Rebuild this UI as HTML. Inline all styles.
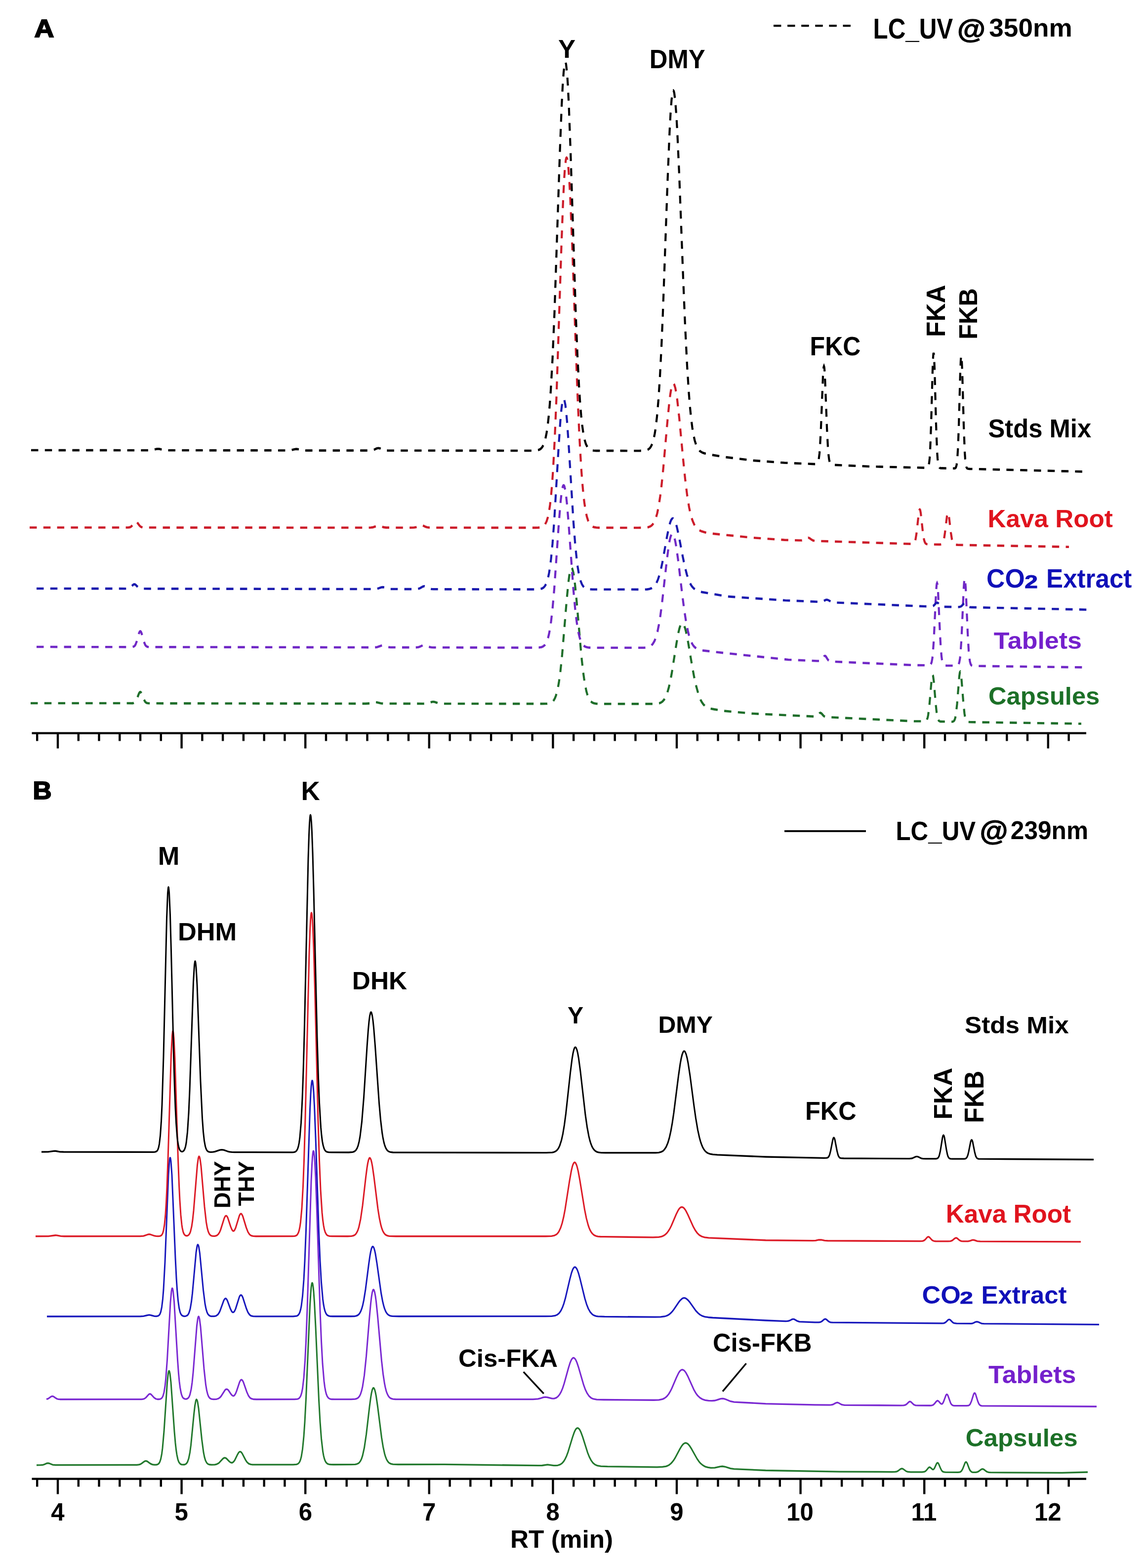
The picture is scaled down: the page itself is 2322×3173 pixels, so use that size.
<!DOCTYPE html>
<html><head><meta charset="utf-8"><title>LC-UV chromatograms</title><style>html,body{margin:0;padding:0;background:#fff;}svg{display:block;}</style></head><body>
<svg width="2322" height="3173" viewBox="0 0 2322 3173">
<rect width="100%" height="100%" fill="#fff"/>
<g fill="none" stroke-width="4.2" stroke-dasharray="14.5 13.3" transform="scale(1,1.1)">
<path d="M62.0,1293.6 268.5,1293.7 270.5,1293.3 272.0,1292.7 274.5,1290.4 277.0,1286.0 281.5,1275.4 283.0,1273.4 284.0,1273.0 285.0,1273.4 286.5,1275.4 291.5,1287.1 294.0,1291.1 295.5,1292.4 297.0,1293.2 299.0,1293.7 302.0,1293.9 740.0,1294.4 748.5,1293.9 757.0,1292.0 760.0,1291.7 763.0,1292.0 771.0,1293.9 776.5,1294.3 856.5,1294.5 862.0,1294.3 865.5,1293.9 874.0,1291.3 877.0,1290.9 880.0,1291.3 888.5,1294.0 896.0,1294.5 1098.0,1294.7 1107.0,1294.6 1112.5,1293.8 1116.0,1292.6 1119.0,1290.6 1121.5,1287.7 1123.5,1284.3 1125.5,1279.6 1127.5,1273.4 1129.5,1265.3 1131.5,1255.0 1134.5,1235.0 1138.0,1204.6 1147.0,1106.2 1150.5,1072.7 1152.5,1058.5 1154.0,1050.8 1155.5,1046.1 1156.5,1044.7 1157.0,1044.5 1157.5,1044.7 1158.5,1046.0 1160.5,1052.5 1162.0,1060.5 1164.0,1074.8 1167.0,1102.3 1177.0,1207.3 1180.5,1236.1 1183.5,1255.3 1187.0,1271.3 1189.0,1277.8 1191.0,1282.8 1193.5,1287.3 1196.0,1290.3 1199.0,1292.4 1202.0,1293.6 1207.0,1294.5 1215.5,1294.9 1324.5,1294.9 1330.0,1294.6 1334.5,1293.8 1338.0,1292.5 1341.0,1290.6 1344.5,1287.0 1348.0,1281.3 1351.0,1274.1 1354.0,1264.6 1357.0,1252.6 1360.0,1238.0 1369.5,1183.4 1373.5,1163.4 1375.5,1155.8 1377.5,1150.2 1379.5,1147.1 1381.0,1146.4 1382.0,1146.7 1383.0,1147.5 1385.0,1150.8 1387.0,1156.0 1389.0,1163.1 1393.0,1181.3 1401.0,1224.5 1405.0,1244.4 1409.0,1260.9 1414.0,1277.4 1416.0,1282.5 1418.5,1287.8 1421.0,1291.9 1424.0,1295.8 1427.0,1298.7 1430.0,1300.9 1433.5,1302.3 1437.5,1303.4 1446.0,1304.9 1465.0,1307.7 1523.0,1312.7 1649.0,1318.1 1651.5,1317.9 1653.5,1317.1 1655.5,1315.6 1659.0,1312.2 1660.0,1311.6 1661.0,1311.4 1663.0,1312.4 1666.5,1316.1 1668.5,1317.8 1671.0,1318.8 1674.0,1319.2 1850.0,1326.8 1872.5,1326.9 1874.0,1326.5 1875.0,1325.8 1876.5,1323.9 1878.0,1320.0 1879.0,1315.6 1881.5,1297.1 1886.0,1249.8 1887.0,1243.9 1887.5,1242.3 1888.0,1241.8 1888.5,1242.4 1889.0,1243.9 1890.5,1254.1 1894.0,1292.3 1896.0,1309.8 1897.5,1318.2 1899.0,1323.2 1900.0,1325.0 1901.0,1326.2 1902.5,1327.0 1904.0,1327.4 1928.0,1327.7 1930.5,1326.9 1932.0,1325.3 1933.5,1321.8 1935.0,1315.4 1937.5,1295.4 1942.0,1244.1 1943.0,1237.7 1943.5,1236.0 1944.0,1235.5 1944.5,1236.0 1945.0,1237.7 1946.0,1244.2 1950.5,1295.5 1952.5,1312.6 1953.5,1318.2 1955.0,1323.6 1956.5,1326.3 1958.5,1327.8 1960.5,1328.2 1965.0,1328.4 2189.0,1331.4" stroke="#1e6e2a"/>
<path d="M74.0,1190.0 261.5,1190.3 268.5,1190.0 270.5,1189.5 272.0,1188.7 273.5,1187.1 274.5,1185.5 277.0,1179.4 281.5,1164.6 283.0,1161.8 284.0,1161.2 285.0,1161.8 286.5,1164.6 291.5,1180.9 294.0,1186.4 295.5,1188.3 297.0,1189.3 299.0,1190.0 302.0,1190.3 755.0,1191.0 760.0,1190.8 763.5,1190.4 772.0,1187.8 775.0,1187.4 778.0,1187.8 785.5,1190.3 790.5,1190.9 838.5,1191.1 844.0,1190.9 847.5,1190.4 850.5,1189.5 856.0,1187.1 859.0,1186.6 862.0,1187.1 867.5,1189.5 870.5,1190.4 873.5,1190.9 878.0,1191.1 1082.0,1191.5 1091.0,1191.2 1096.5,1190.4 1100.0,1188.9 1103.0,1186.5 1105.5,1183.0 1107.5,1179.0 1109.5,1173.4 1111.5,1166.0 1113.5,1156.3 1115.5,1144.0 1118.5,1120.1 1122.0,1083.8 1131.0,966.3 1134.5,926.4 1136.5,909.3 1138.0,900.2 1139.5,894.6 1140.5,892.9 1141.0,892.7 1141.5,892.9 1142.5,894.5 1144.5,902.2 1146.0,911.7 1148.0,928.8 1151.0,961.7 1161.0,1087.0 1164.5,1121.5 1167.5,1144.3 1169.5,1156.2 1171.5,1165.6 1173.5,1172.9 1175.5,1178.5 1178.0,1183.4 1180.5,1186.6 1183.5,1189.0 1186.5,1190.3 1191.5,1191.3 1200.0,1191.6 1303.5,1191.6 1310.0,1191.0 1314.5,1189.8 1318.0,1187.9 1321.5,1184.6 1325.0,1179.2 1328.0,1172.1 1331.0,1162.1 1334.0,1148.7 1337.0,1131.7 1340.0,1111.1 1349.5,1034.0 1353.5,1005.8 1355.5,995.0 1357.5,987.2 1359.5,982.8 1360.5,981.9 1361.0,981.8 1362.0,982.2 1363.0,983.4 1365.0,988.1 1367.0,995.6 1369.0,1005.6 1373.0,1031.5 1381.0,1092.8 1385.0,1121.0 1389.0,1144.5 1392.5,1160.5 1394.5,1167.9 1397.0,1175.3 1399.5,1181.1 1402.0,1185.5 1404.5,1188.7 1407.5,1191.4 1411.5,1193.7 1415.0,1195.0 1423.5,1196.7 1441.0,1198.6 1472.0,1201.8 1596.0,1213.6 1654.0,1215.9 1659.0,1215.9 1661.0,1215.4 1663.0,1214.1 1668.0,1207.6 1669.0,1206.8 1670.0,1206.5 1671.0,1206.9 1672.0,1207.8 1675.5,1212.9 1677.5,1215.1 1680.0,1216.5 1683.0,1217.0 1850.0,1223.6 1878.0,1224.0 1882.0,1223.7 1883.5,1222.9 1884.5,1221.8 1886.0,1218.3 1887.5,1210.9 1888.5,1202.6 1890.5,1175.8 1895.0,1088.2 1896.0,1076.8 1896.5,1073.7 1897.0,1072.7 1897.5,1073.8 1898.0,1076.8 1899.0,1088.3 1903.0,1167.0 1904.5,1191.2 1906.0,1207.4 1907.0,1214.2 1908.0,1218.6 1909.0,1221.3 1910.0,1222.8 1911.0,1223.6 1912.5,1224.2 1916.0,1224.4 1933.5,1224.6 1938.0,1224.3 1939.5,1223.5 1940.5,1222.4 1942.0,1218.6 1943.5,1210.8 1944.5,1202.0 1946.5,1173.6 1951.0,1081.0 1952.0,1068.8 1952.5,1065.6 1953.0,1064.5 1953.5,1065.6 1954.0,1068.8 1955.0,1081.0 1959.0,1164.4 1961.0,1196.6 1962.0,1207.0 1963.5,1216.9 1965.0,1221.7 1966.0,1223.4 1967.0,1224.2 1969.0,1224.9 1973.0,1225.1 2202.0,1227.8" stroke="#7028c6"/>
<path d="M74.0,1082.7 256.5,1082.9 260.0,1082.5 262.5,1081.7 265.0,1079.9 269.5,1075.8 271.0,1075.0 272.0,1074.8 273.0,1075.0 274.5,1075.8 279.5,1080.4 282.0,1081.9 285.0,1082.8 290.0,1083.0 755.0,1083.7 760.0,1083.6 763.5,1083.2 772.0,1080.5 775.0,1080.1 778.0,1080.5 785.5,1083.0 790.5,1083.6 838.5,1083.8 844.0,1083.6 847.5,1083.0 850.5,1081.9 856.0,1079.1 859.0,1078.4 862.0,1079.1 867.5,1081.9 870.5,1083.0 873.5,1083.6 878.0,1083.9 1082.0,1084.2 1091.0,1083.9 1096.5,1082.9 1100.0,1081.2 1103.0,1078.3 1105.5,1074.3 1107.5,1069.5 1109.5,1063.0 1111.5,1054.3 1113.5,1042.9 1115.5,1028.4 1118.5,1000.4 1122.0,957.9 1131.0,820.0 1134.5,773.1 1136.5,753.1 1138.0,742.4 1139.5,735.9 1140.5,733.9 1141.0,733.6 1141.5,733.9 1142.5,735.7 1144.5,744.7 1146.0,755.9 1148.0,776.0 1151.0,814.6 1161.0,961.6 1164.5,1002.1 1167.5,1028.8 1169.5,1042.8 1171.5,1053.8 1173.5,1062.4 1175.5,1068.9 1178.0,1074.7 1180.5,1078.5 1183.5,1081.3 1186.5,1082.8 1191.5,1083.9 1200.0,1084.3 1303.5,1084.4 1310.0,1084.2 1315.0,1083.4 1319.0,1082.1 1322.5,1080.1 1326.0,1076.7 1329.0,1072.3 1332.0,1066.1 1335.0,1057.7 1338.0,1047.1 1341.0,1034.3 1350.5,986.2 1354.5,968.6 1356.5,961.8 1358.5,957.0 1360.5,954.2 1362.0,953.6 1363.0,953.9 1364.0,954.7 1366.0,957.6 1368.0,962.3 1370.0,968.6 1374.0,984.7 1382.0,1023.1 1386.0,1040.7 1390.5,1057.0 1394.5,1067.9 1396.5,1072.1 1399.0,1076.3 1401.5,1079.6 1404.5,1082.4 1408.5,1085.0 1411.5,1086.5 1415.5,1087.9 1421.0,1089.2 1472.0,1097.3 1590.0,1104.5 1660.0,1107.2 1665.0,1106.5 1671.5,1103.7 1674.0,1103.2 1676.5,1103.9 1683.5,1107.4 1686.0,1108.0 1689.5,1108.4 1872.0,1115.5 1882.0,1115.6 1886.5,1115.5 1889.0,1114.8 1891.0,1113.4 1895.0,1109.5 1896.0,1108.9 1897.0,1108.7 1898.0,1108.9 1899.0,1109.5 1904.0,1114.5 1907.0,1115.8 1911.5,1116.2 1937.5,1116.7 1942.0,1116.6 1945.0,1115.8 1947.0,1114.5 1951.0,1110.5 1952.0,1109.9 1953.0,1109.7 1954.0,1109.9 1955.0,1110.6 1958.5,1114.2 1960.5,1115.9 1963.0,1116.8 1966.0,1117.2 2202.0,1121.6" stroke="#1a1aae"/>
<path d="M60.0,970.5 259.5,970.4 263.0,969.9 265.5,968.7 268.0,966.4 272.5,960.9 274.0,959.8 275.0,959.6 276.0,959.8 277.5,960.9 282.5,967.0 285.0,969.1 288.5,970.3 293.5,970.5 746.0,970.7 751.0,970.5 754.5,970.1 763.0,967.5 766.0,967.1 769.0,967.5 776.5,969.9 781.5,970.6 832.5,970.7 838.0,970.5 841.5,970.0 844.5,969.1 850.0,966.7 853.0,966.2 856.0,966.7 861.5,969.1 864.5,970.0 868.0,970.5 873.5,970.7 1084.0,970.8 1090.0,970.6 1094.0,970.2 1097.0,969.4 1099.5,968.3 1101.5,966.8 1103.5,964.6 1106.5,959.2 1109.0,951.9 1111.5,940.9 1113.5,928.7 1115.5,912.7 1117.5,892.2 1119.5,866.5 1123.0,807.6 1126.5,730.7 1136.5,452.9 1140.0,367.9 1142.0,330.9 1143.5,310.4 1145.5,293.8 1146.5,290.4 1147.0,290.0 1147.5,290.4 1148.5,293.2 1150.5,307.1 1152.5,331.5 1154.5,365.2 1158.5,453.8 1166.0,649.7 1169.5,733.5 1173.0,804.1 1176.5,859.6 1178.5,884.5 1181.0,909.5 1183.0,925.0 1185.5,939.7 1188.0,950.3 1190.5,957.6 1193.5,963.3 1195.5,965.8 1197.5,967.5 1200.0,968.9 1203.0,969.9 1207.0,970.5 1212.0,970.8 1291.0,970.9 1305.5,970.7 1312.0,969.9 1316.5,968.4 1318.5,967.2 1320.5,965.6 1324.0,961.1 1327.5,953.7 1330.5,944.2 1333.5,930.8 1336.5,913.1 1339.0,894.9 1342.0,868.9 1351.5,771.5 1355.0,739.7 1357.0,725.2 1359.0,714.4 1361.0,707.7 1362.0,706.0 1363.0,705.5 1364.0,706.0 1365.0,707.5 1367.0,713.3 1369.0,722.8 1371.0,735.4 1375.0,768.0 1383.0,845.2 1387.0,880.8 1391.0,910.4 1395.0,933.1 1397.5,943.9 1400.0,952.4 1402.5,958.9 1405.5,965.1 1408.5,969.5 1411.5,972.5 1415.5,975.3 1420.0,977.3 1432.0,980.7 1437.0,981.2 1523.0,989.1 1588.0,993.3 1618.0,994.1 1623.5,994.1 1627.5,993.1 1633.5,989.8 1636.0,989.2 1638.5,989.9 1643.0,992.8 1645.5,994.1 1648.0,994.7 1651.5,995.1 1847.0,1000.7 1849.5,1000.0 1851.0,998.5 1852.5,995.4 1853.5,991.9 1855.5,980.6 1860.0,943.8 1861.0,939.0 1861.5,937.7 1862.0,937.3 1862.5,937.7 1863.0,939.0 1864.0,943.9 1868.0,977.1 1870.0,989.9 1871.0,994.1 1872.5,998.0 1874.0,1000.0 1876.0,1001.0 1880.0,1001.4 1903.0,1001.7 1906.0,1001.2 1908.0,999.7 1909.0,998.0 1910.0,995.4 1911.5,989.2 1913.0,979.9 1917.0,949.6 1918.0,945.2 1918.5,944.0 1919.0,943.6 1919.5,944.0 1920.0,945.2 1921.0,949.7 1925.0,980.1 1927.0,991.8 1928.0,995.7 1929.5,999.3 1931.0,1001.1 1933.0,1002.0 1939.0,1002.4 2164.0,1006.1" stroke="#cc1c2a"/>
<path d="M63.0,828.2 301.0,828.4 308.5,828.0 317.0,826.0 320.0,825.7 323.0,826.0 331.5,828.0 340.0,828.4 581.0,828.6 588.5,828.2 597.0,826.3 600.0,826.0 603.0,826.3 611.0,828.2 617.5,828.7 745.0,828.8 750.5,828.7 754.0,828.2 757.0,827.4 763.0,824.8 766.0,824.3 769.0,824.8 774.5,827.2 777.5,828.1 780.5,828.6 785.0,828.8 1072.0,829.1 1081.0,829.0 1086.5,828.6 1090.5,827.7 1094.0,826.1 1096.0,824.4 1098.0,822.1 1101.0,816.6 1104.0,807.6 1106.5,796.5 1109.0,780.7 1111.0,764.1 1113.0,743.3 1115.0,717.8 1118.5,660.5 1122.5,575.0 1133.5,277.3 1137.0,195.4 1139.0,159.3 1141.0,133.0 1143.0,118.0 1144.0,114.9 1144.5,114.5 1145.0,115.0 1146.0,118.3 1148.0,134.8 1149.5,155.3 1151.5,192.1 1155.0,277.4 1165.5,575.2 1169.0,654.4 1172.5,715.6 1174.5,742.7 1176.5,764.5 1178.5,781.7 1181.0,797.8 1183.5,809.1 1186.0,816.7 1189.0,822.4 1190.5,824.2 1192.5,826.0 1195.0,827.4 1198.0,828.4 1201.5,828.9 1207.0,829.2 1293.0,829.3 1301.0,829.2 1306.0,828.8 1309.5,828.0 1312.0,827.0 1314.5,825.3 1316.5,823.2 1318.5,820.2 1320.5,816.0 1323.5,806.7 1325.5,797.7 1327.0,789.2 1330.0,766.5 1333.0,734.8 1336.0,692.5 1339.0,638.7 1342.0,574.1 1351.5,331.3 1355.5,242.3 1357.5,208.3 1359.5,183.7 1361.5,169.6 1362.5,166.7 1363.0,166.4 1364.0,167.6 1365.0,171.2 1367.0,185.6 1369.0,208.9 1371.0,240.0 1375.0,320.6 1383.0,511.7 1387.0,599.6 1391.0,672.7 1394.5,722.7 1396.5,745.5 1399.0,768.6 1401.5,786.7 1404.0,800.4 1406.5,810.6 1409.5,819.1 1412.5,824.8 1414.5,827.4 1416.5,829.4 1419.5,831.4 1423.5,833.2 1428.5,834.6 1434.5,835.8 1465.0,840.5 1523.0,847.0 1588.0,851.4 1649.0,853.7 1652.0,853.7 1654.0,853.0 1655.0,852.1 1656.0,850.3 1657.5,844.9 1659.0,833.9 1660.0,822.1 1662.0,785.9 1666.0,692.1 1667.0,678.4 1667.5,674.8 1668.0,673.6 1668.5,674.9 1669.0,678.5 1670.0,692.3 1674.0,786.4 1676.0,822.8 1677.0,834.6 1678.5,845.7 1680.0,851.3 1681.5,853.7 1683.5,854.8 1686.5,855.2 1762.0,858.2 1873.0,860.6 1876.0,860.6 1877.5,860.2 1878.5,859.5 1879.5,857.8 1881.0,851.5 1882.0,842.9 1883.0,828.8 1885.0,780.1 1888.0,679.4 1889.0,657.1 1889.5,651.1 1890.0,649.1 1890.5,651.1 1891.0,657.1 1892.0,679.4 1895.0,780.3 1897.0,829.2 1898.0,843.2 1899.0,851.9 1900.5,858.2 1902.0,860.4 1903.5,861.1 1905.5,861.3 1932.5,861.7 1934.0,861.2 1935.0,860.0 1936.5,855.6 1938.0,844.5 1939.5,821.4 1941.0,783.0 1944.0,684.2 1945.0,662.4 1945.5,656.5 1946.0,654.5 1946.5,656.5 1947.0,662.4 1948.0,684.3 1951.0,783.2 1953.0,831.0 1954.0,844.8 1955.0,853.3 1956.5,859.5 1958.0,861.7 1959.5,862.3 1963.0,862.6 2192.0,867.6" stroke="#000000"/>
</g>
<g fill="none" stroke-width="3.0" stroke-linejoin="round" transform="scale(1,1.1)">
<path d="M74.0,2695.3 82.5,2695.2 86.5,2694.9 89.5,2694.1 94.5,2692.0 97.0,2691.6 99.5,2692.0 106.5,2694.6 112.5,2695.2 277.0,2694.9 281.0,2694.5 284.0,2693.7 286.5,2692.4 292.5,2688.4 294.0,2687.8 295.5,2687.6 298.0,2688.3 304.5,2692.6 308.5,2694.2 312.0,2694.7 316.0,2694.7 318.5,2694.2 320.5,2693.2 322.0,2691.8 323.5,2689.5 325.5,2684.0 327.5,2674.6 329.0,2664.1 332.0,2633.2 338.5,2543.8 340.5,2526.7 341.5,2522.7 342.0,2521.9 342.5,2522.0 343.0,2522.8 344.0,2526.7 346.0,2542.7 353.0,2633.5 355.0,2654.5 356.5,2666.7 358.0,2676.0 360.0,2684.5 361.0,2687.3 362.5,2690.4 365.0,2693.1 367.5,2694.2 370.5,2694.5 373.5,2694.3 376.0,2693.4 378.0,2691.7 379.5,2689.6 382.0,2683.2 384.5,2671.9 386.5,2658.4 392.5,2602.3 394.5,2586.1 396.5,2576.3 397.5,2574.5 398.0,2574.4 399.0,2575.8 400.0,2579.1 402.0,2590.6 408.5,2647.7 412.0,2671.8 414.0,2680.8 416.0,2686.8 418.5,2691.1 421.0,2693.3 424.0,2694.3 428.5,2694.6 435.0,2694.4 439.0,2693.5 441.5,2692.3 443.5,2691.0 451.5,2683.2 453.5,2682.1 455.0,2681.8 456.5,2682.1 458.5,2683.2 464.0,2688.4 466.5,2690.2 468.5,2690.9 470.5,2690.7 472.5,2689.5 475.0,2686.6 481.0,2675.5 483.0,2672.4 484.5,2671.0 486.0,2670.5 488.0,2671.2 490.0,2673.4 497.0,2685.6 500.0,2689.7 503.5,2692.6 507.5,2694.0 511.0,2694.4 516.5,2694.5 593.5,2694.4 600.0,2694.0 602.0,2693.4 603.5,2692.6 605.5,2690.8 607.0,2688.5 608.5,2684.9 610.0,2679.7 612.5,2665.7 615.0,2642.6 617.0,2616.2 619.5,2572.5 627.5,2401.0 629.0,2378.9 630.0,2368.5 631.0,2362.2 631.5,2360.5 632.0,2360.0 632.5,2360.5 633.0,2361.9 634.0,2367.5 635.0,2376.6 636.5,2396.2 639.0,2441.0 645.5,2575.1 648.0,2615.8 650.5,2646.1 653.5,2669.9 655.0,2677.6 656.5,2683.1 658.0,2687.0 660.0,2690.3 662.5,2692.6 665.5,2693.7 669.0,2694.1 675.0,2694.3 711.0,2694.2 719.0,2693.9 722.5,2693.2 725.5,2692.0 728.0,2689.9 730.0,2687.2 732.0,2683.3 734.0,2677.8 737.5,2663.4 741.5,2638.8 748.0,2588.1 750.5,2570.9 752.0,2562.8 753.5,2557.0 755.0,2553.7 756.0,2553.1 757.0,2553.6 758.5,2556.4 760.0,2561.5 761.5,2568.6 764.5,2587.3 772.5,2644.6 775.5,2661.5 778.5,2674.0 780.0,2678.7 782.0,2683.6 783.5,2686.4 785.5,2689.1 787.5,2691.0 789.5,2692.2 792.0,2693.1 795.5,2693.7 806.0,2694.1 900.0,2693.9 1090.5,2696.1 1097.5,2695.9 1108.5,2694.5 1121.0,2696.1 1125.0,2696.1 1129.0,2695.7 1133.5,2694.4 1137.5,2692.1 1141.0,2688.6 1144.0,2684.2 1147.0,2678.3 1150.0,2671.0 1159.0,2644.1 1162.5,2634.9 1164.5,2631.0 1166.0,2628.9 1167.5,2627.5 1169.0,2627.0 1170.5,2627.3 1172.5,2628.9 1174.0,2630.9 1176.0,2634.7 1179.5,2643.3 1189.5,2672.1 1193.0,2680.1 1196.5,2686.3 1200.5,2691.3 1204.5,2694.3 1209.5,2696.3 1216.5,2697.3 1230.0,2697.8 1330.0,2698.9 1341.0,2698.6 1348.0,2697.6 1351.5,2696.5 1355.0,2694.7 1358.0,2692.5 1361.0,2689.6 1364.0,2686.0 1367.0,2681.6 1376.5,2665.4 1380.0,2660.1 1382.0,2657.8 1384.0,2656.0 1386.0,2654.9 1388.0,2654.5 1390.0,2654.9 1392.0,2655.9 1394.0,2657.6 1396.0,2659.8 1400.0,2665.5 1411.0,2683.4 1415.0,2688.7 1418.5,2692.3 1423.0,2695.7 1427.5,2698.0 1433.0,2699.5 1439.0,2700.3 1447.0,2700.1 1458.5,2697.9 1462.5,2697.5 1467.5,2698.2 1479.0,2701.4 1486.0,2702.4 1550.0,2705.0 1700.0,2707.3 1806.0,2707.8 1812.0,2707.7 1815.5,2707.1 1818.0,2705.9 1823.5,2702.1 1826.0,2701.6 1828.5,2702.5 1834.5,2706.6 1838.0,2707.7 1843.5,2708.0 1867.0,2708.1 1870.5,2707.7 1873.0,2706.8 1875.5,2704.8 1879.5,2700.2 1881.5,2699.1 1882.5,2699.2 1883.5,2699.7 1887.5,2703.0 1888.5,2703.4 1889.5,2703.2 1890.5,2702.5 1892.0,2700.5 1896.0,2692.6 1897.0,2691.4 1898.0,2691.0 1899.0,2691.4 1900.5,2693.5 1904.0,2701.2 1906.0,2704.8 1907.5,2706.5 1909.5,2707.7 1911.5,2708.1 1914.0,2708.3 1939.5,2708.5 1943.5,2708.0 1945.0,2707.3 1946.5,2706.0 1949.0,2702.0 1953.5,2691.4 1954.5,2690.0 1955.5,2689.5 1956.5,2689.9 1958.0,2692.0 1962.0,2701.7 1964.0,2705.3 1966.5,2707.6 1968.0,2708.2 1970.0,2708.5 1975.5,2708.5 1979.0,2707.8 1981.5,2706.6 1986.5,2703.1 1989.0,2702.4 1991.5,2703.1 1996.0,2706.4 1998.5,2707.7 2001.5,2708.5 2005.0,2708.8 2150.0,2709.5 2202.0,2708.2" stroke="#21782c"/>
<path d="M94.0,2574.0 97.5,2573.0 103.5,2569.1 106.0,2568.5 108.5,2569.1 113.0,2572.1 115.5,2573.4 118.0,2574.0 121.5,2574.3 286.5,2574.2 290.0,2573.8 293.0,2572.7 295.5,2570.9 301.0,2565.3 302.5,2564.5 303.5,2564.3 304.5,2564.5 306.0,2565.3 312.0,2571.3 315.5,2573.4 318.5,2574.1 322.5,2574.1 325.0,2573.5 327.0,2572.4 328.5,2570.7 330.0,2567.9 332.0,2561.5 334.0,2550.3 335.5,2538.0 338.5,2501.5 345.0,2395.8 347.0,2375.6 348.0,2370.8 348.5,2369.9 349.0,2370.0 349.5,2371.0 350.5,2375.6 352.5,2394.5 359.5,2501.8 361.5,2526.6 363.0,2541.1 364.5,2552.1 366.5,2562.1 367.5,2565.5 369.0,2569.1 370.0,2570.7 371.5,2572.3 374.0,2573.5 377.0,2573.7 379.5,2572.9 381.5,2571.3 383.0,2569.2 384.5,2565.7 387.0,2555.8 389.0,2543.1 391.0,2525.3 398.5,2438.4 400.5,2425.0 401.5,2422.2 402.0,2421.8 402.5,2422.1 403.0,2423.1 404.0,2426.7 406.0,2440.6 413.0,2517.9 416.5,2547.2 418.5,2558.0 420.5,2565.1 422.5,2569.5 425.0,2572.3 428.0,2573.7 432.5,2574.2 438.5,2573.9 442.5,2572.7 445.0,2571.1 447.5,2568.6 455.5,2557.3 457.0,2556.0 458.5,2555.5 460.0,2555.7 462.0,2557.1 467.5,2564.5 469.5,2566.7 471.5,2567.9 472.5,2568.0 473.5,2567.7 475.0,2566.5 477.0,2563.5 479.0,2559.0 485.0,2542.5 487.0,2539.1 488.5,2538.2 489.5,2538.4 490.5,2539.1 492.5,2542.2 499.5,2560.4 503.0,2567.6 506.0,2571.2 508.0,2572.6 510.0,2573.4 513.5,2574.1 519.0,2574.3 596.0,2574.2 602.5,2573.7 604.5,2572.9 606.0,2571.9 608.0,2569.4 609.5,2566.2 611.0,2561.3 612.5,2554.2 615.0,2535.0 617.5,2503.6 619.5,2467.4 622.0,2407.6 630.0,2173.3 631.5,2143.1 632.5,2128.9 633.5,2120.2 634.0,2118.0 634.5,2117.3 635.0,2117.9 635.5,2119.9 636.5,2127.5 637.5,2140.0 639.0,2166.7 641.5,2227.9 648.0,2411.3 650.5,2466.9 653.0,2508.4 656.0,2540.8 657.5,2551.4 659.0,2559.0 660.5,2564.3 662.5,2568.9 665.0,2571.9 668.0,2573.5 671.5,2574.1 677.5,2574.2 711.0,2574.2 719.0,2573.8 722.5,2572.9 725.5,2571.0 728.0,2568.1 730.0,2564.3 732.0,2558.7 734.0,2550.8 737.5,2530.2 741.5,2495.0 748.0,2422.3 750.5,2397.7 752.0,2386.2 753.5,2377.8 755.0,2373.2 756.0,2372.3 757.0,2373.0 758.5,2377.1 760.0,2384.3 761.5,2394.5 764.5,2421.3 772.5,2503.4 775.5,2527.5 778.5,2545.4 780.0,2552.2 782.0,2559.3 783.5,2563.2 785.5,2567.1 787.5,2569.8 789.5,2571.5 792.0,2572.9 795.5,2573.7 800.5,2574.1 809.0,2574.2 1079.0,2574.2 1089.0,2573.5 1093.0,2572.7 1100.0,2570.6 1104.0,2570.1 1108.0,2570.5 1117.0,2572.7 1120.0,2572.9 1122.5,2572.6 1126.5,2571.2 1130.0,2568.6 1133.0,2565.2 1136.0,2560.3 1139.0,2553.7 1142.0,2545.5 1151.0,2515.9 1154.0,2507.3 1156.0,2502.8 1157.5,2500.3 1159.5,2498.3 1161.0,2497.8 1162.5,2498.3 1164.5,2500.1 1166.0,2502.5 1168.0,2506.7 1171.5,2516.3 1181.5,2547.7 1185.0,2556.4 1188.5,2563.0 1192.5,2568.3 1196.5,2571.5 1199.0,2572.7 1201.5,2573.6 1208.0,2574.6 1222.0,2575.0 1323.5,2575.7 1334.0,2575.3 1341.0,2574.0 1344.5,2572.6 1348.0,2570.4 1351.0,2567.7 1354.0,2564.1 1357.0,2559.5 1360.0,2554.1 1369.5,2533.8 1373.5,2526.3 1375.5,2523.4 1377.5,2521.3 1379.5,2520.1 1381.0,2519.7 1383.0,2520.1 1385.0,2521.3 1387.0,2523.3 1389.0,2526.0 1393.0,2532.9 1404.5,2556.2 1408.5,2562.7 1412.5,2567.6 1417.0,2571.4 1422.0,2574.1 1427.5,2575.8 1434.5,2576.7 1441.0,2577.0 1446.0,2576.6 1450.0,2575.8 1458.5,2573.3 1462.5,2572.8 1465.0,2573.1 1467.5,2573.7 1479.0,2577.9 1486.0,2579.2 1550.0,2582.3 1650.0,2584.5 1679.0,2584.7 1682.5,2584.5 1685.5,2584.0 1692.5,2580.7 1695.0,2580.2 1697.5,2580.8 1704.0,2584.0 1706.5,2584.5 1709.5,2584.8 1823.5,2585.5 1829.5,2585.3 1832.5,2584.7 1835.0,2583.4 1840.0,2579.0 1842.0,2578.3 1843.0,2578.5 1844.5,2579.3 1850.0,2584.1 1853.5,2585.3 1858.5,2585.6 1883.0,2585.7 1887.0,2585.3 1889.5,2584.3 1891.5,2582.6 1895.5,2578.0 1897.5,2576.8 1898.5,2576.8 1900.0,2577.6 1903.5,2581.3 1905.0,2582.5 1906.5,2582.8 1907.5,2582.5 1908.5,2581.5 1910.0,2579.0 1915.0,2566.6 1916.0,2565.4 1917.0,2565.1 1918.0,2565.8 1919.0,2567.4 1924.5,2581.2 1926.0,2583.4 1928.0,2585.1 1930.0,2585.7 1932.5,2586.0 1957.0,2586.1 1961.0,2585.5 1962.5,2584.6 1964.0,2583.0 1966.5,2577.9 1971.0,2564.8 1972.0,2563.2 1973.0,2562.6 1974.0,2563.2 1975.0,2564.8 1979.5,2578.0 1981.5,2582.3 1982.5,2583.7 1984.0,2585.1 1985.5,2585.8 1987.5,2586.2 2220.0,2587.5" stroke="#7a28d2"/>
<path d="M95.0,2421.8 283.5,2421.7 290.5,2421.3 299.0,2419.4 302.0,2419.0 305.0,2419.4 312.5,2421.2 316.5,2421.5 320.0,2420.9 322.5,2419.2 324.0,2417.0 325.5,2413.3 327.5,2404.6 329.5,2389.5 331.0,2372.5 334.0,2321.8 341.0,2161.3 343.0,2135.3 344.0,2130.1 344.5,2129.7 345.0,2130.6 346.0,2136.2 348.0,2161.4 355.0,2314.2 357.0,2350.5 358.5,2371.9 360.5,2392.6 362.5,2405.9 364.5,2413.7 366.0,2417.1 367.5,2419.2 369.5,2420.6 372.5,2421.4 376.0,2421.2 379.0,2420.0 381.0,2418.0 382.5,2415.4 385.0,2407.9 387.5,2394.7 389.5,2379.3 397.0,2304.0 399.0,2292.4 400.0,2289.9 400.5,2289.6 401.5,2290.7 402.5,2293.9 404.5,2305.9 411.5,2372.9 415.0,2398.3 417.0,2407.6 419.0,2413.8 421.0,2417.6 423.5,2420.0 425.5,2421.0 427.5,2421.4 433.5,2421.5 436.0,2421.1 438.0,2420.4 441.0,2418.4 443.5,2415.1 445.5,2411.3 453.0,2392.4 455.0,2389.4 456.5,2388.6 458.0,2389.2 460.0,2392.0 466.0,2406.8 468.5,2411.7 470.0,2413.5 471.0,2414.1 472.0,2414.2 473.0,2413.9 475.0,2411.7 477.0,2407.6 484.5,2385.9 486.0,2383.3 487.5,2382.3 488.5,2382.5 489.5,2383.3 491.5,2386.7 498.5,2406.6 502.0,2414.4 505.0,2418.3 507.0,2419.9 509.0,2420.8 512.5,2421.5 518.0,2421.7 593.5,2421.7 600.0,2421.1 602.0,2420.4 603.5,2419.4 605.5,2417.0 607.0,2414.0 608.5,2409.4 610.0,2402.6 612.5,2384.4 615.0,2354.5 617.0,2320.2 619.5,2263.5 627.5,2041.0 629.0,2012.3 630.0,1998.9 631.0,1990.6 631.5,1988.5 632.0,1987.8 632.5,1988.4 633.0,1990.3 634.0,1997.5 635.0,2009.4 636.5,2034.8 639.0,2092.9 645.5,2267.0 648.0,2319.8 650.5,2359.1 653.5,2389.9 655.0,2399.9 656.5,2407.1 658.0,2412.2 660.0,2416.5 662.5,2419.4 665.5,2420.9 668.5,2421.4 674.0,2421.6 709.5,2421.6 717.5,2421.4 721.0,2420.8 724.0,2419.7 726.5,2417.8 728.5,2415.4 730.5,2412.0 732.5,2407.0 734.5,2400.4 736.5,2391.7 740.0,2371.9 746.5,2325.6 749.0,2309.8 750.5,2302.4 752.0,2296.9 753.5,2293.8 754.5,2293.1 755.5,2293.5 757.0,2295.9 758.5,2300.4 760.0,2306.7 763.0,2323.7 771.5,2378.8 774.5,2393.6 777.0,2403.0 778.5,2407.4 780.5,2411.9 782.0,2414.5 784.0,2417.0 786.0,2418.7 788.0,2419.9 790.5,2420.7 794.0,2421.3 807.5,2421.6 1105.0,2421.5 1117.0,2421.3 1123.5,2420.4 1128.0,2418.7 1132.0,2415.7 1135.5,2411.2 1138.5,2405.5 1141.5,2398.0 1144.5,2388.5 1153.5,2353.5 1157.0,2341.5 1159.0,2336.4 1160.5,2333.5 1162.5,2331.3 1164.0,2330.9 1165.5,2331.6 1167.5,2334.0 1169.0,2336.8 1171.0,2341.9 1174.5,2353.5 1184.0,2388.9 1187.5,2399.4 1191.0,2407.5 1195.0,2413.9 1199.0,2417.9 1201.5,2419.4 1204.0,2420.4 1207.0,2421.2 1210.5,2421.7 1224.0,2422.2 1326.0,2422.9 1337.5,2422.7 1345.0,2421.8 1348.5,2420.9 1352.0,2419.5 1355.0,2417.8 1358.0,2415.5 1361.0,2412.6 1364.0,2409.1 1373.5,2396.3 1377.0,2392.2 1381.0,2388.9 1383.0,2388.0 1385.0,2387.7 1387.0,2388.0 1389.0,2388.8 1393.0,2391.9 1397.0,2396.3 1408.5,2411.1 1413.0,2415.5 1417.0,2418.5 1421.5,2420.8 1426.5,2422.3 1434.0,2423.4 1443.0,2424.1 1550.0,2429.1 1590.5,2430.5 1594.0,2430.4 1596.5,2430.0 1599.0,2429.2 1603.5,2427.0 1606.0,2426.6 1608.5,2427.2 1614.5,2430.4 1618.5,2431.4 1650.0,2432.7 1657.5,2432.7 1661.0,2432.1 1663.5,2431.0 1668.5,2427.1 1670.5,2426.5 1671.5,2426.6 1673.0,2427.4 1677.0,2430.6 1679.0,2431.8 1681.5,2432.6 1685.0,2432.9 1907.0,2434.5 1910.5,2434.2 1913.0,2433.3 1915.0,2432.0 1919.5,2428.0 1921.5,2427.3 1923.5,2428.0 1928.0,2432.1 1930.0,2433.5 1932.5,2434.3 1936.5,2434.7 1966.5,2434.8 1970.0,2434.1 1975.0,2431.9 1977.5,2431.4 1980.0,2431.9 1986.0,2434.4 1988.5,2434.9 1992.0,2435.1 2225.0,2436.7" stroke="#1818bc"/>
<path d="M72.0,2274.3 98.0,2274.2 112.0,2272.5 115.0,2272.7 123.0,2273.9 130.0,2274.3 283.5,2274.2 290.5,2273.7 299.0,2271.1 302.0,2270.6 305.0,2271.1 313.0,2273.6 316.0,2274.0 320.0,2274.2 323.0,2274.0 325.0,2273.5 326.5,2272.7 328.0,2271.2 329.5,2268.4 331.0,2263.7 333.0,2252.8 335.0,2233.7 336.5,2212.3 338.0,2183.7 340.0,2134.1 346.5,1939.6 348.5,1904.7 349.5,1897.3 350.0,1896.4 350.5,1897.2 351.0,1899.7 352.0,1909.6 354.0,1946.5 360.5,2132.4 362.5,2180.0 364.0,2208.1 366.0,2235.4 368.0,2253.1 369.0,2259.0 370.5,2265.2 371.5,2268.1 373.0,2270.8 375.0,2272.7 377.0,2273.4 379.5,2273.3 382.0,2271.9 384.0,2269.3 385.5,2266.0 388.0,2256.5 390.0,2244.2 392.0,2227.0 399.5,2143.2 401.5,2130.3 402.5,2127.6 403.0,2127.3 404.0,2128.5 405.0,2132.0 407.0,2145.4 414.0,2219.9 417.5,2248.2 419.5,2258.6 421.5,2265.4 423.5,2269.6 426.0,2272.4 427.5,2273.2 429.5,2273.8 432.0,2274.0 435.0,2273.9 439.0,2272.8 442.0,2270.5 444.5,2266.9 446.5,2262.6 454.0,2240.9 456.0,2237.4 457.5,2236.4 459.0,2237.0 461.0,2240.0 467.0,2256.7 469.5,2262.2 471.5,2264.4 472.5,2264.7 473.5,2264.4 475.0,2262.8 477.0,2258.9 484.5,2236.5 486.0,2233.8 487.5,2232.7 488.5,2232.9 489.5,2233.8 491.5,2237.4 498.5,2258.3 502.0,2266.5 505.0,2270.7 507.0,2272.3 509.0,2273.3 512.5,2274.0 518.0,2274.3 592.0,2274.2 596.0,2274.0 598.5,2273.5 600.5,2272.5 602.0,2271.1 604.0,2267.9 605.5,2263.8 607.0,2257.4 608.5,2248.1 611.0,2223.2 613.5,2182.2 615.5,2135.0 618.0,2057.2 626.0,1752.0 627.5,1712.7 628.5,1694.3 629.5,1682.9 630.0,1680.1 630.5,1679.1 631.0,1679.9 631.5,1682.4 632.5,1692.4 633.5,1708.6 635.0,1743.5 637.5,1823.2 644.0,2062.1 646.5,2134.5 649.0,2188.5 652.0,2230.8 653.5,2244.4 655.0,2254.3 656.5,2261.3 658.5,2267.2 661.0,2271.2 662.5,2272.5 664.0,2273.2 667.0,2274.0 672.0,2274.2 703.5,2274.3 711.5,2273.9 715.0,2273.3 718.0,2272.0 720.5,2269.9 722.5,2267.1 724.5,2263.2 726.5,2257.5 730.0,2242.8 734.0,2217.7 740.5,2165.8 743.0,2148.2 744.5,2139.9 746.0,2134.0 747.5,2130.6 748.5,2130.0 749.5,2130.6 751.0,2133.4 752.5,2138.6 754.0,2145.9 757.0,2165.0 765.0,2223.7 768.0,2240.9 771.0,2253.7 772.5,2258.5 774.5,2263.6 776.0,2266.4 778.0,2269.2 780.0,2271.1 782.0,2272.3 784.5,2273.3 788.0,2273.9 801.5,2274.3 1104.5,2274.3 1116.5,2273.9 1120.0,2273.4 1123.0,2272.6 1125.5,2271.4 1127.5,2270.1 1129.5,2268.1 1131.5,2265.5 1135.0,2258.7 1138.0,2250.2 1141.0,2238.9 1144.0,2224.6 1153.0,2172.1 1156.5,2154.2 1158.5,2146.4 1160.0,2142.1 1162.0,2138.8 1163.5,2138.2 1165.0,2139.2 1167.0,2142.8 1168.5,2147.1 1170.5,2154.7 1174.0,2172.0 1183.5,2225.2 1187.0,2241.0 1190.5,2253.1 1192.5,2258.5 1194.5,2262.8 1196.5,2266.1 1199.0,2269.2 1201.5,2271.4 1204.0,2272.8 1207.0,2273.9 1210.5,2274.6 1215.5,2275.0 1224.0,2275.2 1322.0,2276.2 1333.5,2275.8 1337.5,2275.2 1340.5,2274.4 1344.0,2272.9 1347.0,2271.0 1350.0,2268.4 1353.0,2264.8 1356.0,2260.4 1359.0,2255.0 1369.0,2233.7 1372.5,2227.2 1374.5,2224.3 1376.5,2222.2 1378.5,2220.9 1380.5,2220.6 1382.5,2221.1 1384.5,2222.4 1386.5,2224.6 1388.5,2227.4 1392.5,2234.5 1403.5,2256.8 1407.5,2263.3 1411.5,2268.3 1416.0,2272.2 1421.0,2274.8 1426.5,2276.3 1434.5,2277.2 1550.0,2281.6 1645.5,2282.4 1651.0,2282.1 1657.5,2280.9 1660.0,2280.7 1662.5,2280.9 1669.5,2282.2 1675.5,2282.5 1863.0,2283.3 1867.5,2283.1 1870.5,2282.2 1873.0,2280.3 1877.0,2276.2 1878.5,2275.3 1879.5,2275.2 1881.5,2276.0 1886.0,2280.6 1888.0,2282.1 1890.5,2283.0 1894.0,2283.4 1919.0,2283.5 1924.0,2283.3 1927.5,2282.2 1933.0,2278.1 1934.5,2277.4 1935.5,2277.2 1937.5,2277.8 1942.0,2281.3 1944.0,2282.5 1946.5,2283.3 1950.0,2283.6 1960.5,2283.4 1963.0,2282.9 1968.0,2281.2 1970.0,2281.0 1972.0,2281.2 1978.5,2283.3 1984.5,2283.7 2188.0,2284.5" stroke="#dc1a26"/>
<path d="M84.0,2119.1 97.5,2118.9 110.0,2117.3 113.0,2117.5 121.5,2118.9 128.5,2119.1 310.0,2119.4 313.5,2119.2 316.0,2118.6 318.0,2117.2 319.5,2115.1 321.0,2111.2 322.5,2104.6 324.5,2089.1 326.5,2062.4 328.0,2032.5 331.0,1943.7 337.5,1689.1 339.5,1642.9 340.5,1633.1 341.0,1631.8 341.5,1632.9 342.5,1641.7 344.5,1683.4 346.5,1749.5 351.5,1941.3 353.5,2002.4 355.0,2038.0 356.5,2065.1 358.5,2089.7 359.5,2098.1 361.0,2106.8 362.0,2110.8 363.5,2114.7 365.5,2117.4 367.0,2118.3 368.5,2118.5 370.0,2118.3 371.5,2117.4 373.5,2114.9 375.5,2109.6 377.0,2102.7 379.5,2082.6 382.0,2047.6 384.0,2006.6 391.5,1806.3 393.5,1775.5 394.5,1769.0 395.0,1768.2 395.5,1768.9 396.0,1771.1 397.0,1779.5 399.0,1811.5 406.0,1989.6 409.5,2057.1 411.5,2082.1 413.5,2098.5 415.5,2108.5 416.5,2111.7 418.0,2115.0 419.5,2117.0 421.5,2118.5 424.0,2119.2 427.0,2119.4 431.0,2119.2 434.5,2118.7 445.0,2115.6 449.0,2115.1 453.0,2115.6 460.5,2118.0 464.5,2119.0 469.0,2119.5 475.0,2119.6 591.0,2119.8 594.5,2119.6 597.0,2119.1 599.0,2118.1 600.5,2116.7 602.5,2113.4 604.0,2109.1 605.5,2102.5 607.0,2092.6 609.5,2065.8 612.0,2021.3 614.0,1970.0 616.0,1904.0 624.0,1578.5 625.5,1535.7 626.5,1515.7 627.5,1503.3 628.0,1500.1 628.5,1499.1 629.0,1500.0 629.5,1502.7 630.5,1513.6 631.5,1531.2 633.0,1569.1 635.0,1636.2 642.0,1908.4 644.5,1983.1 646.5,2028.4 649.5,2074.0 651.0,2088.7 652.5,2099.3 654.0,2106.6 656.0,2112.8 657.0,2114.8 658.5,2116.9 660.0,2118.2 661.5,2118.9 665.0,2119.7 671.0,2119.9 706.0,2120.0 714.0,2119.4 717.5,2118.3 720.5,2115.9 723.0,2112.1 725.0,2107.3 727.0,2100.1 729.0,2090.1 732.5,2063.7 736.5,2018.7 743.0,1925.8 745.5,1894.3 747.0,1879.6 748.5,1868.9 750.0,1863.0 751.0,1861.8 752.0,1862.8 753.5,1868.0 755.0,1877.2 756.5,1890.2 759.5,1924.5 767.5,2029.5 770.5,2060.3 773.5,2083.3 775.0,2091.9 777.0,2100.9 778.5,2106.0 780.5,2111.0 782.5,2114.4 784.5,2116.7 787.0,2118.4 790.5,2119.5 795.5,2120.0 804.0,2120.1 1106.0,2120.6 1118.0,2120.1 1121.5,2119.4 1124.5,2118.1 1127.0,2116.4 1129.0,2114.4 1131.0,2111.6 1133.0,2107.8 1136.5,2098.0 1139.5,2085.7 1142.5,2069.4 1145.5,2048.9 1154.5,1974.0 1158.0,1948.6 1160.0,1937.6 1161.5,1931.7 1163.0,1927.9 1164.5,1926.4 1165.0,1926.4 1166.0,1927.2 1168.0,1931.5 1169.5,1937.2 1171.5,1947.4 1175.0,1971.3 1185.0,2050.8 1188.5,2073.0 1192.0,2090.1 1194.0,2097.6 1196.0,2103.6 1198.0,2108.3 1200.0,2111.9 1202.5,2115.1 1205.0,2117.3 1208.0,2118.9 1211.5,2119.9 1217.0,2120.5 1225.5,2120.7 1327.0,2120.7 1333.5,2120.3 1338.0,2119.3 1342.0,2117.4 1345.0,2114.8 1348.5,2110.0 1352.0,2102.5 1355.0,2093.3 1358.0,2081.1 1361.0,2065.7 1364.0,2047.3 1373.5,1979.3 1377.0,1957.2 1379.0,1947.3 1381.0,1939.8 1383.0,1935.2 1384.0,1934.0 1385.0,1933.6 1386.0,1934.0 1387.0,1935.1 1389.0,1939.4 1391.0,1946.3 1393.0,1955.5 1397.0,1979.2 1405.0,2034.8 1408.5,2057.1 1412.5,2078.5 1416.0,2093.0 1418.0,2099.6 1420.5,2106.2 1422.5,2110.5 1425.0,2114.5 1427.5,2117.5 1430.5,2120.0 1433.5,2121.6 1437.5,2122.9 1443.0,2123.8 1452.0,2124.4 1550.0,2128.2 1668.0,2130.3 1673.5,2130.2 1675.5,2129.7 1677.0,2128.6 1678.5,2126.4 1679.5,2124.2 1681.5,2117.2 1686.0,2096.3 1687.0,2093.6 1688.0,2092.7 1689.0,2093.7 1690.0,2096.3 1694.5,2117.4 1696.5,2124.5 1697.5,2126.8 1699.0,2129.0 1700.5,2130.1 1702.0,2130.6 1708.0,2130.9 1841.0,2131.5 1846.5,2130.9 1853.5,2128.0 1856.0,2127.5 1858.5,2128.0 1864.5,2130.7 1868.0,2131.4 1874.0,2131.7 1895.0,2131.7 1897.5,2131.1 1899.0,2130.1 1900.5,2128.0 1901.5,2125.6 1903.5,2117.9 1908.0,2092.6 1909.0,2089.3 1910.0,2088.2 1911.0,2089.4 1912.0,2092.7 1916.0,2115.4 1918.0,2124.1 1919.0,2127.0 1920.5,2129.7 1922.0,2131.0 1924.0,2131.7 1928.0,2131.9 1951.0,2132.0 1954.0,2131.7 1956.0,2130.7 1958.0,2128.1 1959.5,2124.4 1961.0,2118.7 1965.0,2100.4 1966.0,2097.8 1967.0,2096.8 1968.0,2097.8 1969.0,2100.4 1973.0,2118.8 1975.0,2125.9 1976.0,2128.2 1977.5,2130.3 1979.0,2131.4 1981.0,2132.0 2214.0,2133.2" stroke="#000000"/>
</g>
<line x1="64.5" y1="1483.6" x2="2199" y2="1483.6" stroke="#000" stroke-width="4.2"/>
<path d="M75.2,1482.1V1499.6M117.0,1482.1V1514.6M158.8,1482.1V1499.6M200.5,1482.1V1499.6M242.3,1482.1V1499.6M284.1,1482.1V1499.6M325.8,1482.1V1499.6M367.6,1482.1V1514.6M409.4,1482.1V1499.6M451.1,1482.1V1499.6M492.9,1482.1V1499.6M534.7,1482.1V1499.6M576.4,1482.1V1499.6M618.2,1482.1V1514.6M660.0,1482.1V1499.6M701.7,1482.1V1499.6M743.5,1482.1V1499.6M785.3,1482.1V1499.6M827.0,1482.1V1499.6M868.8,1482.1V1514.6M910.6,1482.1V1499.6M952.3,1482.1V1499.6M994.1,1482.1V1499.6M1035.9,1482.1V1499.6M1077.6,1482.1V1499.6M1119.4,1482.1V1514.6M1161.2,1482.1V1499.6M1202.9,1482.1V1499.6M1244.7,1482.1V1499.6M1286.5,1482.1V1499.6M1328.2,1482.1V1499.6M1370.0,1482.1V1514.6M1411.8,1482.1V1499.6M1453.5,1482.1V1499.6M1495.3,1482.1V1499.6M1537.1,1482.1V1499.6M1578.8,1482.1V1499.6M1620.6,1482.1V1514.6M1662.4,1482.1V1499.6M1704.1,1482.1V1499.6M1745.9,1482.1V1499.6M1787.7,1482.1V1499.6M1829.4,1482.1V1499.6M1871.2,1482.1V1514.6M1913.0,1482.1V1499.6M1954.7,1482.1V1499.6M1996.5,1482.1V1499.6M2038.3,1482.1V1499.6M2080.0,1482.1V1499.6M2121.8,1482.1V1514.6M2163.6,1482.1V1499.6" stroke="#000" stroke-width="4.4" fill="none"/>
<line x1="64.5" y1="2992.6" x2="2199" y2="2992.6" stroke="#000" stroke-width="4.2"/>
<path d="M75.2,2991.1V3008.6M117.0,2991.1V3023.6M158.8,2991.1V3008.6M200.5,2991.1V3008.6M242.3,2991.1V3008.6M284.1,2991.1V3008.6M325.8,2991.1V3008.6M367.6,2991.1V3023.6M409.4,2991.1V3008.6M451.1,2991.1V3008.6M492.9,2991.1V3008.6M534.7,2991.1V3008.6M576.4,2991.1V3008.6M618.2,2991.1V3023.6M660.0,2991.1V3008.6M701.7,2991.1V3008.6M743.5,2991.1V3008.6M785.3,2991.1V3008.6M827.0,2991.1V3008.6M868.8,2991.1V3023.6M910.6,2991.1V3008.6M952.3,2991.1V3008.6M994.1,2991.1V3008.6M1035.9,2991.1V3008.6M1077.6,2991.1V3008.6M1119.4,2991.1V3023.6M1161.2,2991.1V3008.6M1202.9,2991.1V3008.6M1244.7,2991.1V3008.6M1286.5,2991.1V3008.6M1328.2,2991.1V3008.6M1370.0,2991.1V3023.6M1411.8,2991.1V3008.6M1453.5,2991.1V3008.6M1495.3,2991.1V3008.6M1537.1,2991.1V3008.6M1578.8,2991.1V3008.6M1620.6,2991.1V3023.6M1662.4,2991.1V3008.6M1704.1,2991.1V3008.6M1745.9,2991.1V3008.6M1787.7,2991.1V3008.6M1829.4,2991.1V3008.6M1871.2,2991.1V3023.6M1913.0,2991.1V3008.6M1954.7,2991.1V3008.6M1996.5,2991.1V3008.6M2038.3,2991.1V3008.6M2080.0,2991.1V3008.6M2121.8,2991.1V3023.6M2163.6,2991.1V3008.6" stroke="#000" stroke-width="4.4" fill="none"/>
<path d="M1566,52.1H1724" stroke="#000" stroke-width="4.4" stroke-dasharray="15.4 12.7" fill="none"/>
<path d="M1588,1681.8H1753" stroke="#000" stroke-width="3.8" fill="none"/>
<g font-family="Liberation Sans, Arial, sans-serif" font-weight="bold">
<text transform="translate(69.4,75.2) scale(1.1067,1.0176)" font-size="50" fill="#000000" stroke="#000000" stroke-width="1.99">A</text>
<text transform="translate(1130.0,116.7) scale(1.0520,1.0520)" font-size="50" fill="#000000">Y</text>
<text transform="translate(1314.7,138.4) scale(1.0171,1.0754)" font-size="50" fill="#000000">DMY</text>
<text transform="translate(1639.6,718.5) scale(1.0004,1.0571)" font-size="50" fill="#000000">FKC</text>
<text transform="translate(1913.3,681.9) rotate(-90) scale(1.0247,1.0583)" font-size="50" fill="#000000">FKA</text>
<text transform="translate(1977.5,687.0) rotate(-90) scale(1.0106,1.0466)" font-size="50" fill="#000000">FKB</text>
<text transform="translate(2000.5,884.5) scale(1.0148,1.0484)" font-size="50" fill="#000000">Stds Mix</text>
<text transform="translate(1999.5,1066.8) scale(1.0247,1.0119)" font-size="50" fill="#e0141e">Kava Root</text>
<text transform="translate(2011.8,1313.0) scale(1.0403,0.9734)" font-size="50" fill="#7420cc">Tablets</text>
<text transform="translate(2001.0,1425.5) scale(1.0138,1.0000)" font-size="50" fill="#1c7027">Capsules</text>
<text transform="translate(66.5,1616.6) scale(1.0532,0.9828)" font-size="50" fill="#000000" stroke="#000000" stroke-width="2.09">B</text>
<text transform="translate(609.6,1618.5) scale(1.0610,1.0610)" font-size="50" fill="#000000">K</text>
<text transform="translate(319.8,1750.0) scale(1.0466,1.0466)" font-size="50" fill="#000000">M</text>
<text transform="translate(359.9,1902.8) scale(1.0487,1.0068)" font-size="50" fill="#000000">DHM</text>
<text transform="translate(712.8,2001.7) scale(1.0271,1.0068)" font-size="50" fill="#000000">DHK</text>
<text transform="translate(1149.1,2070.6) scale(0.9640,0.9640)" font-size="50" fill="#000000">Y</text>
<text transform="translate(1332.4,2090.4) scale(0.9945,0.9777)" font-size="50" fill="#000000">DMY</text>
<text transform="translate(1953.0,2090.8) scale(1.0246,0.9781)" font-size="50" fill="#000000">Stds Mix</text>
<text transform="translate(1630.0,2265.7) scale(1.0102,1.0298)" font-size="50" fill="#000000">FKC</text>
<text transform="translate(1926.8,2265.4) rotate(-90) scale(1.0185,1.0525)" font-size="50" fill="#000000">FKA</text>
<text transform="translate(1990.8,2272.7) rotate(-90) scale(1.0312,1.1009)" font-size="50" fill="#000000">FKB</text>
<text transform="translate(466.3,2445.2) rotate(-90) scale(0.9070,0.9369)" font-size="50" fill="#000000">DHY</text>
<text transform="translate(513.7,2440.6) rotate(-90) scale(0.9136,0.8982)" font-size="50" fill="#000000">THY</text>
<text transform="translate(1914.7,2473.8) scale(1.0255,1.0272)" font-size="50" fill="#e0141e">Kava Root</text>
<text transform="translate(2000.9,2799.1) scale(1.0358,1.0096)" font-size="50" fill="#7420cc">Tablets</text>
<text transform="translate(1954.7,2926.7) scale(1.0211,0.9959)" font-size="50" fill="#1c7027">Capsules</text>
<text transform="translate(928.0,2765.8) scale(1.0196,1.0093)" font-size="50" fill="#000000">Cis-FKA</text>
<text transform="translate(1442.9,2735.0) scale(1.0166,1.0455)" font-size="50" fill="#000000">Cis-FKB</text>
<text transform="translate(1032.9,3131.7) scale(1.0275,1.0109)" font-size="50" fill="#000000">RT (min)</text>
<text transform="translate(103.3,3076.5) scale(0.9824,0.9824)" font-size="50" fill="#000000">4</text>
<text transform="translate(353.6,3076.5) scale(0.9824,0.9824)" font-size="50" fill="#000000">5</text>
<text transform="translate(604.8,3076.5) scale(0.9824,0.9824)" font-size="50" fill="#000000">6</text>
<text transform="translate(855.1,3076.5) scale(0.9824,0.9824)" font-size="50" fill="#000000">7</text>
<text transform="translate(1105.4,3076.5) scale(0.9824,0.9824)" font-size="50" fill="#000000">8</text>
<text transform="translate(1356.3,3076.5) scale(0.9824,0.9824)" font-size="50" fill="#000000">9</text>
<text transform="translate(1592.3,3076.5) scale(0.9824,0.9824)" font-size="50" fill="#000000">10</text>
<text transform="translate(1844.5,3076.5) scale(0.9824,0.9824)" font-size="50" fill="#000000">11</text>
<text transform="translate(2093.9,3076.5) scale(0.9824,0.9824)" font-size="50" fill="#000000">12</text>
<text fill="#000000"><tspan x="1767.6" y="77.6" font-size="56.49" textLength="161.68" lengthAdjust="spacingAndGlyphs">LC_UV</tspan><tspan x="1938.1" y="77.3" font-size="54.27" textLength="56.96" lengthAdjust="spacingAndGlyphs" stroke="#000000" stroke-width="1.30">@</tspan><tspan x="2002.3" y="73.8" font-size="51.16" textLength="168.34" lengthAdjust="spacingAndGlyphs">350nm</tspan></text>
<text fill="#000000"><tspan x="1813.5" y="1700.1" font-size="54.41" textLength="161.67" lengthAdjust="spacingAndGlyphs">LC_UV</tspan><tspan x="1983.4" y="1699.5" font-size="56.29" textLength="56.98" lengthAdjust="spacingAndGlyphs" stroke="#000000" stroke-width="1.30">@</tspan><tspan x="2045.8" y="1697.9" font-size="51.16" textLength="157.21" lengthAdjust="spacingAndGlyphs">239nm</tspan></text>
<text fill="#1010b8"><tspan x="1997.1" y="1189.4" font-size="54.05" textLength="77.59" lengthAdjust="spacingAndGlyphs">CO</tspan><tspan x="2074.2" y="1189.5" font-size="37.76" textLength="26.63" lengthAdjust="spacingAndGlyphs" stroke="#1010b8" stroke-width="1.00">2</tspan> <tspan x="2118.1" y="1189.4" font-size="54.05" textLength="173.24" lengthAdjust="spacingAndGlyphs">Extract</tspan></text>
<text fill="#1010b8"><tspan x="1866.4" y="2637.7" font-size="50.34" textLength="78.46" lengthAdjust="spacingAndGlyphs">CO</tspan><tspan x="1943.3" y="2637.7" font-size="34.31" textLength="26.50" lengthAdjust="spacingAndGlyphs" stroke="#1010b8" stroke-width="1.00">2</tspan> <tspan x="1986.4" y="2637.7" font-size="50.34" textLength="173.22" lengthAdjust="spacingAndGlyphs">Extract</tspan></text>
</g>
<path d="M1059.8,2776.2L1100.7,2820.2M1510.6,2759L1463,2815.7" stroke="#000" stroke-width="3.4" fill="none"/>
</svg>
</body></html>
